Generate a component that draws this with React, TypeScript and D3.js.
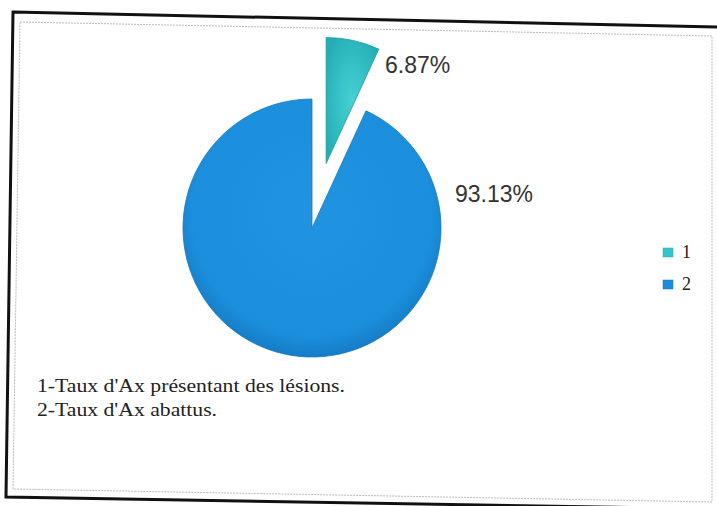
import React from "react";
import * as d3 from "d3";

const categories = ["1", "2"];
const values = [6.87, 93.13];
const valueLabels = ["6.87%", "93.13%"];
const notes = ["1-Taux d'Ax présentant des lésions.", "2-Taux d'Ax abattus."];
const colors = ["#34c4c8", "#1a8ddc"];

const SERIF = "Liberation Serif, DejaVu Serif, serif";
const SANS = "Liberation Sans, DejaVu Sans, sans-serif";

export default function App() {
  const W = 717, H = 506;
  const cx = 312, cy = 228;
  const radii = [126, 129];
  const explode = [66, 0];
  const pie = d3.pie<number>().sort(null).startAngle(0).endAngle(2 * Math.PI)(values);
  const arcs = pie.map((p, i) => {
    const a = d3.arc<any>().innerRadius(0).outerRadius(radii[i]);
    const mid = (p.startAngle + p.endAngle) / 2;
    const dx = Math.sin(mid) * explode[i];
    const dy = -Math.cos(mid) * explode[i];
    return { d: a(p as any) as string, dx, dy, i };
  });
  const labelPos = [
    { x: 385, y: 73 },
    { x: 455, y: 202 },
  ];
  const noteWidths = [308, 180];
  return (
    <svg width={W} height={H} style={{ position: "absolute", left: 0, top: 0, display: "block", background: "#fff" }}>
      <defs>
        <radialGradient id="g0" cx="50%" cy="50%" r="60%">
          <stop offset="0%" stopColor="#46d2d4" />
          <stop offset="100%" stopColor="#22aeb4" />
        </radialGradient>
        <radialGradient id="g1" cx="50%" cy="45%" r="55%">
          <stop offset="0%" stopColor="#2094e0" />
          <stop offset="85%" stopColor="#1b8fdc" />
          <stop offset="100%" stopColor="#167cc6" />
        </radialGradient>
      </defs>
      <polygon points="13,12 720,27 720,509 6,497" fill="none" stroke="#111" strokeWidth={3} />
      <polygon points="20,22 712,36 712,502 13,489" fill="none" stroke="#bbb" strokeWidth={1} strokeDasharray="2,1" />
      <g transform={`translate(${cx},${cy})`}>
        {arcs.map((a) => (
          <path key={a.i} d={a.d} transform={`translate(${a.dx},${a.dy})`} fill={`url(#g${a.i})`} stroke={a.i === 0 ? "#1f9aa0" : "#1477bf"} strokeWidth={0.8} />
        ))}
      </g>
      {valueLabels.map((t, i) => (
        <text key={t} x={labelPos[i].x} y={labelPos[i].y} style={{ fontFamily: SANS }} fontSize={23} fill="#333">{t}</text>
      ))}
      {categories.map((c, i) => (
        <g key={c} transform={`translate(663,${248 + i * 32})`}>
          <rect x={0} y={0} width={10} height={9} fill={colors[i]} stroke={i === 0 ? "#22aeb4" : "#1477bf"} strokeWidth={0.5} />
          <text x={19} y={10} style={{ fontFamily: SERIF }} fontSize={18} fill="#222">{c}</text>
        </g>
      ))}
      {notes.map((n, i) => (
        <text key={n} x={37} y={392 + i * 24} style={{ fontFamily: SERIF }} fontSize={18} fill="#222" textLength={noteWidths[i]} lengthAdjust="spacingAndGlyphs">{n}</text>
      ))}
    </svg>
  );
}
